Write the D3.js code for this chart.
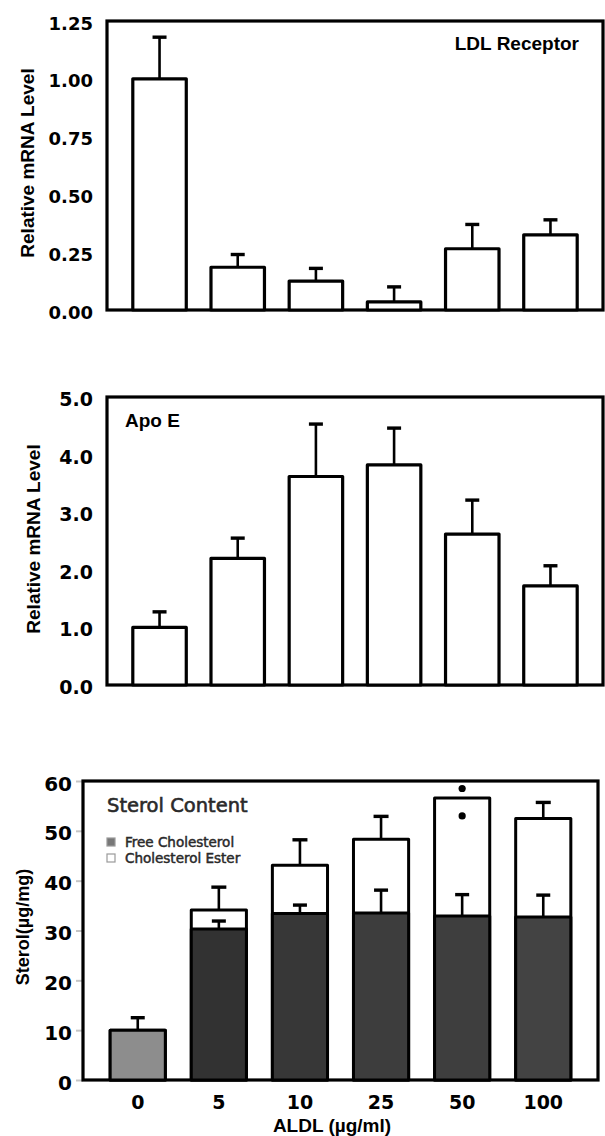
<!DOCTYPE html>
<html>
<head>
<meta charset="utf-8">
<script src="https://cdn.jsdelivr.net/npm/d3@7"></script>
<style>
  body { margin: 0; background: #fff; }
  svg { display: block; }
</style>
</head>
<body>
<svg id="chart" width="605" height="1136"></svg>
<script>
// ALDL dose groups (µg/ml)
const doses = ["0", "5", "10", "25", "50", "100"];

// LDL receptor mRNA, relative
const ldlMean = [1.0, 0.185, 0.125, 0.035, 0.265, 0.325];
const ldlSd   = [0.18, 0.055, 0.055, 0.065, 0.105, 0.065];
const ldlTicks = [0, 0.25, 0.5, 0.75, 1.0, 1.25];

// Apo E mRNA, relative
const apoMean = [1.0, 2.2, 3.62, 3.82, 2.62, 1.72];
const apoSd   = [0.27, 0.35, 0.91, 0.64, 0.59, 0.35];
const apoTicks = [0, 1, 2, 3, 4, 5];

// sterol content (µg/mg)
const freeChol    = [10.0, 30.3, 33.4, 33.5, 32.9, 32.7];
const freeSd      = [2.5, 1.6, 1.7, 4.6, 4.3, 4.4];
const totalSterol = [10.0, 34.1, 43.1, 48.3, 56.6, 52.5];
const totalSd     = [0, 4.6, 5.1, 4.6, 0, 3.2];
const sterolDots  = [{ dose: "50", value: 58.5 }, { dose: "50", value: 53.0 }];
const sterolTicks = [0, 10, 20, 30, 40, 50, 60];

const freeFill = ["#8d8d8d", "#323232", "#373737", "#3d3d3d", "#3e3e3e", "#434343"];

const svg = d3.select("#chart");
const SANS = "'Liberation Sans', Arial, Helvetica, sans-serif";
const WIDE = "'DejaVu Sans', sans-serif";

function panel(o) {
  const x = d3.scaleBand().domain(doses)
    .range([o.left, o.right]).paddingInner(o.pi).paddingOuter(o.po);
  const y = d3.scaleLinear().domain([0, o.max]).range([o.bottom, o.top]);
  const g = svg.append("g");

  const ax = g.append("g")
    .attr("transform", `translate(${o.left},0)`)
    .call(d3.axisLeft(y).tickValues(o.ticks).tickFormat(o.fmt)
      .tickSize(o.tickLen).tickPadding(o.pad));
  ax.select(".domain").remove();
  ax.selectAll(".tick line").attr("stroke", "#c4c4c4").attr("stroke-width", 2);
  ax.selectAll(".tick text")
    .attr("fill", "#000")
    .attr("dy", "0.45em")
    .style("font-family", WIDE)
    .style("font-weight", "bold")
    .style("font-size", o.tickFont + "px");

  // frame
  g.append("rect")
    .attr("x", o.left).attr("y", y(o.max))
    .attr("width", o.right - o.left).attr("height", y(0) - y(o.max))
    .attr("fill", "none").attr("stroke", "#000").attr("stroke-width", 3.2);

  // y title
  g.append("text")
    .attr("transform", `translate(${o.titleX},${o.titleY}) rotate(-90)`)
    .attr("text-anchor", "middle").attr("dy", "0.35em")
    .style("font-family", SANS).style("font-weight", "bold")
    .style("font-size", o.titleFont + "px")
    .text(o.title);

  return { g, x, y };
}

function errorBars(g, x, y, tops, sds, cap) {
  const rows = doses.map((d, i) => ({ d, v: tops[i], s: sds[i] })).filter(r => r.s > 0);
  const eb = g.append("g").selectAll("g").data(rows).join("g");
  eb.append("line")
    .attr("x1", r => x(r.d) + x.bandwidth() / 2).attr("x2", r => x(r.d) + x.bandwidth() / 2)
    .attr("y1", r => y(r.v)).attr("y2", r => y(r.v + r.s))
    .attr("stroke", "#000").attr("stroke-width", 2.6);
  eb.append("line")
    .attr("x1", r => x(r.d) + x.bandwidth() / 2 - cap / 2)
    .attr("x2", r => x(r.d) + x.bandwidth() / 2 + cap / 2)
    .attr("y1", r => y(r.v + r.s)).attr("y2", r => y(r.v + r.s))
    .attr("stroke", "#000").attr("stroke-width", 3.4);
}

function simpleBars(p, means, sds) {
  const { g, x, y } = p;
  errorBars(g, x, y, means, sds, 14);
  g.append("g").selectAll("rect").data(doses).join("rect")
    .attr("x", d => x(d)).attr("width", x.bandwidth())
    .attr("y", (d, i) => y(means[i]))
    .attr("height", (d, i) => y(0) - y(means[i]))
    .attr("fill", "#fff").attr("stroke", "#000").attr("stroke-width", 3.2)
    .attr("stroke-linejoin", "round");
}

// ---- panel A: LDL receptor ----
const pA = panel({
  left: 107, right: 603, top: 21, bottom: 310, max: 1.25,
  pi: 0.316, po: 0.33, ticks: ldlTicks, fmt: d3.format(".2f"),
  tickLen: 0, pad: 14, tickFont: 18,
  title: "Relative mRNA Level", titleX: 27, titleY: 163, titleFont: 19
});
simpleBars(pA, ldlMean, ldlSd);
pA.g.append("text")
  .attr("x", 579).attr("y", 50).attr("text-anchor", "end")
  .style("font-family", SANS).style("font-weight", "bold").style("font-size", "19px")
  .text("LDL Receptor");

// ---- panel B: Apo E ----
const pB = panel({
  left: 107, right: 603, top: 397, bottom: 685, max: 5,
  pi: 0.316, po: 0.33, ticks: apoTicks, fmt: d3.format(".1f"),
  tickLen: 0, pad: 14, tickFont: 19,
  title: "Relative mRNA Level", titleX: 33, titleY: 539, titleFont: 19
});
simpleBars(pB, apoMean, apoSd);
pB.g.append("text")
  .attr("x", 125).attr("y", 427)
  .style("font-family", SANS).style("font-weight", "bold").style("font-size", "19px")
  .text("Apo E");

// ---- panel C: sterol content ----
const pC = panel({
  left: 83, right: 598, top: 781, bottom: 1080, max: 60,
  pi: 0.32, po: 0.335, ticks: sterolTicks, fmt: d3.format("d"),
  tickLen: 7, pad: 4, tickFont: 20,
  title: "Sterol(\u00b5g/mg)", titleX: 23, titleY: 927, titleFont: 18
});
{
  const { g, x, y } = pC;
  const bars = g.append("g");
  bars.selectAll("rect.total").data(doses).join("rect")
    .attr("class", "total")
    .attr("x", d => x(d)).attr("width", x.bandwidth())
    .attr("y", (d, i) => y(totalSterol[i]))
    .attr("height", (d, i) => y(0) - y(totalSterol[i]))
    .attr("fill", "#fff").attr("stroke", "#000").attr("stroke-width", 3)
    .attr("stroke-linejoin", "round");
  bars.selectAll("rect.free").data(doses).join("rect")
    .attr("class", "free")
    .attr("x", d => x(d)).attr("width", x.bandwidth())
    .attr("y", (d, i) => y(freeChol[i]))
    .attr("height", (d, i) => y(0) - y(freeChol[i]))
    .attr("fill", (d, i) => freeFill[i]).attr("stroke", "#000").attr("stroke-width", 3)
    .attr("stroke-linejoin", "round");

  errorBars(g, x, y, freeChol, freeSd, 14);
  errorBars(g, x, y, totalSterol, totalSd, 15);

  g.append("g").selectAll("circle").data(sterolDots).join("circle")
    .attr("cx", d => x(d.dose) + x.bandwidth() / 2)
    .attr("cy", d => y(d.value)).attr("r", 3.6).attr("fill", "#000");

  // x axis labels
  const xa = g.append("g")
    .attr("transform", `translate(0,${y(0)})`)
    .call(d3.axisBottom(x).tickSize(0).tickPadding(16));
  xa.select(".domain").remove();
  xa.selectAll(".tick text")
    .attr("fill", "#000")
    .style("font-family", WIDE).style("font-weight", "bold").style("font-size", "19px");

  g.append("text")
    .attr("x", 332).attr("y", 1132).attr("text-anchor", "middle")
    .style("font-family", SANS).style("font-weight", "bold").style("font-size", "19px")
    .text("ALDL (\u00b5g/ml)");

  // legend
  g.append("text")
    .attr("x", 107).attr("y", 812)
    .attr("fill", "#2a2a2a")
    .style("font-family", WIDE).style("font-size", "19.5px")
    .style("stroke", "#2a2a2a").style("stroke-width", 0.6)
    .text("Sterol Content");

  const legendItems = [
    { label: "Free Cholesterol", fill: "#777" },
    { label: "Cholesterol Ester", fill: "#fff" }
  ];
  const li = g.append("g").selectAll("g").data(legendItems).join("g")
    .attr("transform", (d, i) => `translate(107,${842 + i * 16})`);
  li.append("rect")
    .attr("x", 0).attr("y", -4).attr("width", 8).attr("height", 8)
    .attr("fill", d => d.fill).attr("stroke", "#9a9a9a").attr("stroke-width", 1.2);
  li.append("text")
    .attr("x", 18).attr("dy", "0.36em")
    .attr("fill", "#2a2a2a")
    .style("font-family", WIDE).style("font-size", "13.5px")
    .style("stroke", "#2a2a2a").style("stroke-width", 0.5)
    .text(d => d.label);
}
</script>
</body>
</html>
